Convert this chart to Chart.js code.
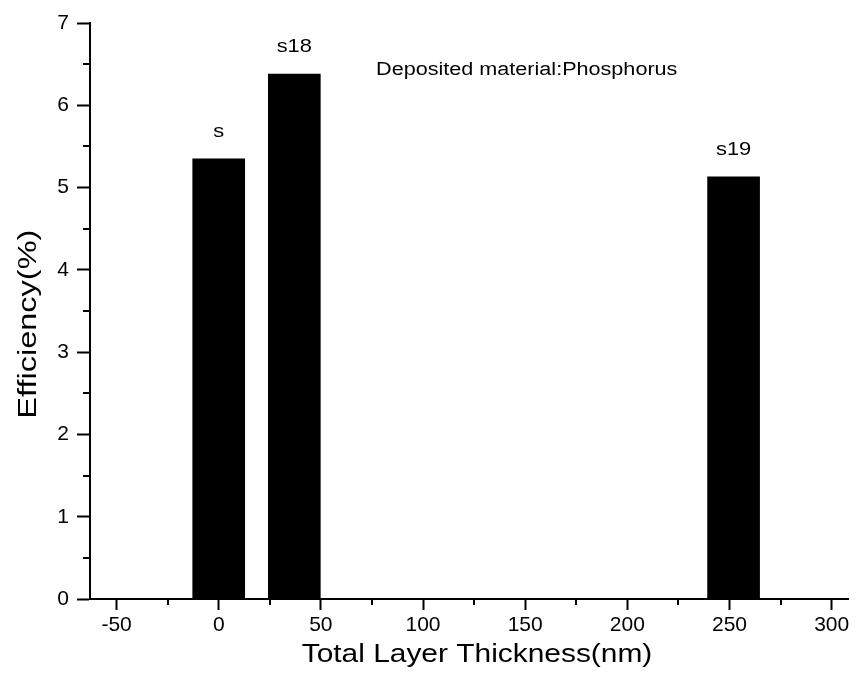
<!DOCTYPE html>
<html>
<head>
<meta charset="utf-8">
<script src="https://cdn.jsdelivr.net/npm/chart.js@4.4.1/dist/chart.umd.min.js"></script>
<style>
  html, body { margin: 0; padding: 0; background: #ffffff; }
  #wrap { width: 858px; height: 693px; }
</style>
</head>
<body>
<div id="wrap"><canvas id="c" width="858" height="693"></canvas></div>
<script>
// Samples: total layer thickness (nm) and measured efficiency (%)
const sampleNames = ['s', 's18', 's19'];
const thickness = [0, 37, 252];
const efficiency = [5.35, 6.38, 5.13];

// Axis ticks
const xTickValues = [-50, 0, 50, 100, 150, 200, 250, 300];
const xMinorValues = [-25, 25, 75, 125, 175, 225, 275];
const yTickValues = [0, 1, 2, 3, 4, 5, 6, 7];
const yMinorValues = [0.5, 1.5, 2.5, 3.5, 4.5, 5.5, 6.5];

const xTitle = 'Total Layer Thickness(nm)';
const yTitle = 'Efficiency(%)';
const noteText = 'Deposited material:Phosphorus';
const FONT = '"Liberation Sans", Arial, Helvetica, sans-serif';

// Text drawn slightly widened along its reading direction
function wideText(ctx, text, x, y, size, stretch, align, rotate) {
  ctx.save();
  ctx.translate(x, y);
  if (rotate) ctx.rotate(rotate);
  ctx.scale(stretch, 1);
  ctx.font = size + 'px ' + FONT;
  ctx.textAlign = align;
  ctx.textBaseline = 'middle';
  ctx.fillStyle = '#000';
  ctx.fillText(text, 0, 0);
  ctx.restore();
}

// Short minor tick marks drawn outside both axes
const minorTicks = {
  id: 'minorTicks',
  afterDraw(chart) {
    const { ctx, scales: { x, y }, chartArea } = chart;
    ctx.save();
    ctx.strokeStyle = '#000';
    ctx.lineWidth = 2;
    ctx.beginPath();
    xMinorValues.forEach(v => {
      const px = Math.round(x.getPixelForValue(v));
      ctx.moveTo(px, chartArea.bottom);
      ctx.lineTo(px, chartArea.bottom + 6);
    });
    yMinorValues.forEach(v => {
      const py = Math.round(y.getPixelForValue(v));
      ctx.moveTo(chartArea.left, py);
      ctx.lineTo(chartArea.left - 7, py);
    });
    ctx.stroke();
    ctx.restore();
  }
};

// Sample names above bars, the material note and both axis titles
const textLayer = {
  id: 'textLayer',
  afterDatasetsDraw(chart) {
    const { ctx, scales: { x, y }, chartArea } = chart;
    const meta = chart.getDatasetMeta(0);
    meta.data.forEach((bar, i) => {
      wideText(ctx, sampleNames[i], bar.x, bar.y - 27, 19, 1.15, 'center');
    });
    wideText(ctx, noteText, x.getPixelForValue(77), y.getPixelForValue(6.43), 18, 1.2, 'left');
    wideText(ctx, xTitle, (chartArea.left + chartArea.right) / 2 + 8, 655, 26, 1.15, 'center');
    wideText(ctx, yTitle, 29, y.getPixelForValue(3.34), 26, 1.25, 'center', -Math.PI / 2);
  }
};

new Chart(document.getElementById('c'), {
  type: 'bar',
  data: {
    datasets: [{
      data: thickness.map((t, i) => ({ x: t, y: efficiency[i] })),
      backgroundColor: '#000000',
      borderWidth: 0,
      barThickness: 52
    }]
  },
  options: {
    responsive: false,
    animation: false,
    devicePixelRatio: 1,
    layout: { padding: { top: 23, right: 10, left: 0, bottom: 0 } },
    plugins: { legend: { display: false }, tooltip: { enabled: false } },
    scales: {
      x: {
        type: 'linear',
        min: -63,
        max: 308,
        offset: false,
        afterBuildTicks(scale) { scale.ticks = xTickValues.map(v => ({ value: v })); },
        afterFit(scale) { scale.height = 94; },
        grid: { display: true, offset: false, drawOnChartArea: false, drawTicks: true, tickLength: 11, tickWidth: 2, tickColor: '#000' },
        border: { display: true, color: '#000', width: 2 },
        ticks: { color: '#000', font: { family: FONT, size: 21 }, padding: 3, maxRotation: 0, autoSkip: false },
        title: { display: false }
      },
      y: {
        min: 0,
        max: 7,
        afterBuildTicks(scale) { scale.ticks = yTickValues.map(v => ({ value: v })); },
        afterFit(scale) { scale.width = 90; },
        grid: { display: true, offset: false, drawOnChartArea: false, drawTicks: true, tickLength: 13, tickWidth: 2, tickColor: '#000' },
        border: { display: true, color: '#000', width: 2 },
        ticks: { color: '#000', font: { family: FONT, size: 21 }, padding: 8 },
        title: { display: false }
      }
    }
  },
  plugins: [minorTicks, textLayer]
});
</script>
</body>
</html>
